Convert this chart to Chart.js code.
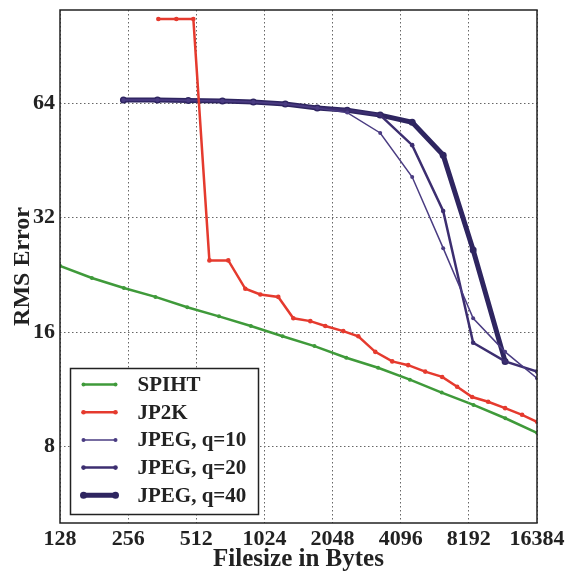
<!DOCTYPE html>
<html lang="en">
<head>
<meta charset="UTF-8">
<title>RMS Error vs Filesize</title>
<script src="https://cdn.jsdelivr.net/npm/chart.js"></script>
<style>
  body { margin: 0; background: white; }
  #wrap { width: 571px; height: 572px; }
</style>
</head>
<body>
<div id="wrap"><canvas id="chart" width="571" height="572"></canvas></div>
<script>
// axis ticks
const xTicks = [128, 256, 512, 1024, 2048, 4096, 8192, 16384];
const yTicks = [8, 16, 32, 64];

// SPIHT
const spihtSize = [128, 177, 245, 338, 467, 645, 892, 1232, 1703, 2354, 3253, 4496, 6213, 8587, 11868, 16384];
const spihtRms  = [23.9, 22.2, 20.9, 19.8, 18.6, 17.6, 16.6, 15.6, 14.7, 13.7, 12.9, 12.0, 11.1, 10.3, 9.5, 8.7];

// JPEG 2000
const jp2kSize = [348, 418, 497, 585, 709, 843, 982, 1179, 1374, 1633, 1902, 2283, 2660, 3161, 3757, 4421, 5254, 6245, 7272, 8471, 9968, 11845, 14077, 16384];
const jp2kRms  = [106.4, 106.4, 106.4, 24.7, 24.7, 20.8, 20.1, 19.8, 17.4, 17.1, 16.6, 16.1, 15.6, 14.2, 13.4, 13.1, 12.6, 12.2, 11.5, 10.8, 10.5, 10.1, 9.7, 9.3];

// JPEG at three quality settings
const jpegSize  = [244, 345, 472, 668, 915, 1266, 1753, 2378, 3325, 4604, 6309, 8558, 11845, 16384];
const jpegQ10   = [65.2, 65.2, 65.0, 64.8, 64.4, 63.6, 62.1, 60.4, 53.4, 40.9, 26.6, 17.4, 14.2, 12.1];
const jpegQ20   = [65.2, 65.2, 65.0, 64.8, 64.4, 63.6, 62.1, 61.3, 59.5, 49.6, 33.3, 15.0, 13.4, 12.6];
const jpegQ40   = [65.2, 65.2, 65.0, 64.8, 64.4, 63.6, 62.1, 61.3, 59.5, 57.0, 46.7, 26.3, 13.4];

function pairs(xs, ys) {
    return ys.map((y, i) => ({ x: xs[i], y: y }));
}

const serif = '"Liberation Serif", "DejaVu Serif", serif';

// box round the plot area
const frame = {
    id: 'frame',
    afterDraw(chart) {
        const { ctx, chartArea: a } = chart;
        ctx.save();
        ctx.strokeStyle = '#222';
        ctx.lineWidth = 1.5;
        ctx.strokeRect(a.left, a.top, a.right - a.left, a.bottom - a.top);
        ctx.restore();
    }
};

// legend drawn inside the plot, lower left
const insideLegend = {
    id: 'insideLegend',
    afterDraw(chart) {
        const { ctx, chartArea: a } = chart;
        const left = a.left + 10.5, top = a.bottom - 154.5, w = 188, h = 146;
        ctx.save();
        ctx.fillStyle = 'white';
        ctx.fillRect(left, top, w, h);
        ctx.strokeStyle = '#222';
        ctx.lineWidth = 1.5;
        ctx.strokeRect(left, top, w, h);
        ctx.font = 'bold 21px ' + serif;
        ctx.textBaseline = 'middle';
        chart.data.datasets.forEach((ds, i) => {
            const y = top + 16 + i * 27.7;
            ctx.strokeStyle = ds.borderColor;
            ctx.fillStyle = ds.borderColor;
            ctx.lineWidth = ds.borderWidth;
            ctx.beginPath();
            ctx.moveTo(left + 13, y);
            ctx.lineTo(left + 45, y);
            ctx.stroke();
            [left + 13, left + 45].forEach(px => {
                ctx.beginPath();
                ctx.arc(px, y, ds.pointRadius, 0, Math.PI * 2);
                ctx.fill();
            });
            ctx.fillStyle = '#222';
            ctx.fillText(ds.label, left + 67, y + 1);
        });
        ctx.restore();
    }
};

function line(label, data, color, width, radius, order) {
    return {
        label: label,
        data: data,
        borderColor: color,
        backgroundColor: color,
        borderWidth: width,
        pointRadius: radius,
        pointBorderWidth: 0,
        tension: 0,
        order: order
    };
}

new Chart(document.getElementById('chart'), {
    type: 'line',
    data: {
        datasets: [
            line('SPIHT', pairs(spihtSize, spihtRms), '#3f9a3a', 2.5, 2, 1),
            line('JP2K', pairs(jp2kSize, jp2kRms), '#e53a2e', 2.5, 2.3, 0),
            line('JPEG, q=10', pairs(jpegSize, jpegQ10), '#4a3c82', 1.5, 2, 2),
            line('JPEG, q=20', pairs(jpegSize, jpegQ20), '#3c2e70', 2.5, 2.3, 3),
            line('JPEG, q=40', pairs(jpegSize, jpegQ40), '#2e2560', 5, 3.5, 4)
        ]
    },
    options: {
        responsive: false,
        animation: false,
        layout: { padding: { top: 10, right: 34, left: 0, bottom: 0 } },
        plugins: {
            legend: { display: false },
            tooltip: { enabled: false }
        },
        scales: {
            x: {
                type: 'logarithmic',
                min: 128,
                max: 16384,
                afterBuildTicks: s => { s.ticks = xTicks.map(v => ({ value: v })); },
                afterFit: s => { s.height = 49; s.paddingLeft = 0; s.paddingRight = 0; },
                ticks: {
                    autoSkip: false,
                    maxRotation: 0,
                    padding: 3,
                    color: '#222',
                    font: { family: serif, size: 22, weight: 'bold' },
                    callback: v => String(v)
                },
                grid: { color: '#666', drawTicks: false },
                border: { display: false, dash: [1.5, 2.5] },
                title: {
                    display: true,
                    text: 'Filesize in Bytes',
                    color: '#222',
                    padding: 0,
                    font: { family: serif, size: 25, weight: 'bold', lineHeight: 1 }
                }
            },
            y: {
                type: 'logarithmic',
                min: 5.04,
                max: 112.4,
                afterBuildTicks: s => { s.ticks = yTicks.map(v => ({ value: v })); },
                afterFit: s => { s.width = 60; s.paddingTop = 0; s.paddingBottom = 0; },
                ticks: {
                    padding: 5,
                    color: '#222',
                    font: { family: serif, size: 22, weight: 'bold' },
                    callback: v => String(v)
                },
                grid: { color: '#666', drawTicks: false },
                border: { display: false, dash: [1.5, 2.5] },
                title: {
                    display: true,
                    text: 'RMS Error',
                    color: '#222',
                    padding: { top: 8, bottom: 0 },
                    font: { family: serif, size: 24, weight: 'bold', lineHeight: 1.2 }
                }
            }
        }
    },
    plugins: [frame, insideLegend]
});
</script>
</body>
</html>
